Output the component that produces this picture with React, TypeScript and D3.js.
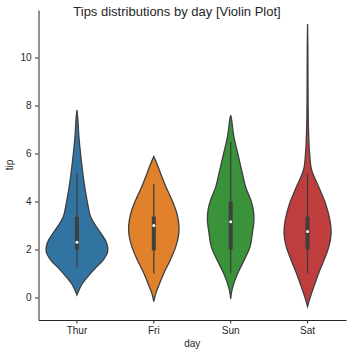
import React, { useRef, useEffect } from 'react';
import * as d3 from 'd3';

// categories and tick labels
const days = ['Thur', 'Fri', 'Sun', 'Sat'];
const yTicks = [0, 2, 4, 6, 8, 10];

// kde outline: [tip, density]
const thurDensity: [number, number][] = [
    [0.1, 0], [0.17, 0.01], [0.52, 0.067], [0.87, 0.161], [1.22, 0.271], [1.56, 0.386],
    [1.91, 0.453], [2.26, 0.439], [2.6, 0.371], [2.95, 0.286], [3.37, 0.2], [3.92, 0.157],
    [4.62, 0.114], [5.31, 0.081], [6.0, 0.053], [6.7, 0.029], [7.4, 0.014], [7.81, 0],
];
const friDensity: [number, number][] = [
    [-0.17, 0], [0.17, 0.029], [0.45, 0.067], [1.01, 0.147], [1.56, 0.243], [2.12, 0.324],
    [2.53, 0.361], [2.95, 0.371], [3.51, 0.339], [4.06, 0.267], [4.62, 0.176], [5.17, 0.1],
    [5.59, 0.043], [5.87, 0],
];
const sunDensity: [number, number][] = [
    [-0.06, 0], [0.24, 0.014], [0.59, 0.047], [1.01, 0.104], [1.56, 0.2], [2.12, 0.286],
    [2.67, 0.319], [3.23, 0.343], [3.65, 0.333], [4.06, 0.296], [4.62, 0.219], [5.31, 0.161],
    [6.0, 0.104], [6.7, 0.047], [7.4, 0.014], [7.6, 0],
];
const satDensity: [number, number][] = [
    [-0.38, 0], [-0.03, 0.036], [0.45, 0.093], [1.01, 0.164], [1.56, 0.243], [2.12, 0.314],
    [2.67, 0.347], [3.23, 0.329], [3.92, 0.264], [4.62, 0.162], [5.31, 0.06], [6.0, 0.03],
    [6.5, 0.02], [7.0, 0.014], [7.5, 0.01], [8.5, 0.007], [9.5, 0.006], [10.5, 0.004], [11.4, 0],
];
const densities = [thurDensity, friDensity, sunDensity, satDensity];

// inner box
const q1 = [2.0, 1.96, 2.0, 2.0];
const medians = [2.3, 3.0, 3.15, 2.75];
const q3 = [3.36, 3.37, 4.0, 3.37];
const whiskerLow = [1.25, 1.0, 1.01, 1.0];
const whiskerHigh = [5.2, 4.73, 6.5, 5.17];

const palette = ['#3274a1', '#e1812c', '#3a923a', '#c03d3e'];

const App: React.FC = () => {
    const svgRef = useRef<SVGSVGElement | null>(null);
    const width = 352;
    const height = 356;
    const margin = { top: 10, right: 6, bottom: 36, left: 38.5 };

    useEffect(() => {
        if (!svgRef.current) return;
        const svg = d3.select(svgRef.current);
        svg.selectAll('*').remove();

        const ink = '#262626';
        const gray = '#3f3f3f';
        const font = '"Liberation Sans", Arial, sans-serif';

        const x = d3.scaleBand<string>()
            .domain(days)
            .range([margin.left, width - margin.right])
            .padding(0);

        const y = d3.scaleLinear()
            .domain([-0.94, 11.98])
            .range([height - margin.bottom, margin.top]);

        const maxDensity = d3.max(densities, d => d3.max(d, p => p[1])) || 1;
        const w = d3.scaleLinear()
            .domain([0, maxDensity])
            .range([0, x.bandwidth() * 0.4]);

        days.forEach((day, i) => {
            const cx = (x(day) || 0) + x.bandwidth() / 2;
            const area = d3.area<[number, number]>()
                .y(d => y(d[0]))
                .x0(d => cx - w(d[1]))
                .x1(d => cx + w(d[1]))
                .curve(d3.curveCatmullRom);

            svg.append('path')
                .datum(densities[i])
                .attr('d', area)
                .attr('fill', palette[i])
                .attr('stroke', gray)
                .attr('stroke-width', 1.3);

            svg.append('line')
                .attr('x1', cx).attr('x2', cx)
                .attr('y1', y(whiskerLow[i])).attr('y2', y(whiskerHigh[i]))
                .attr('stroke', gray)
                .attr('stroke-width', 1.3);

            svg.append('line')
                .attr('x1', cx).attr('x2', cx)
                .attr('y1', y(q1[i])).attr('y2', y(q3[i]))
                .attr('stroke', gray)
                .attr('stroke-width', 4);

            svg.append('circle')
                .attr('cx', cx)
                .attr('cy', y(medians[i]))
                .attr('r', 1.5)
                .attr('fill', 'white');
        });

        const yAxis = svg.append('g')
            .attr('transform', `translate(${margin.left},0)`)
            .call(d3.axisLeft(y).tickValues(yTicks).tickSize(3.5).tickSizeOuter(0).tickPadding(3.5));

        const xAxis = svg.append('g')
            .attr('transform', `translate(0,${height - margin.bottom})`)
            .call(d3.axisBottom(x).tickSize(3.5).tickSizeOuter(0).tickPadding(3.5));

        [yAxis, xAxis].forEach(g => {
            g.selectAll('path, line').attr('stroke', ink).attr('stroke-width', 1);
            g.selectAll('text').attr('fill', ink).attr('font-size', 10).attr('font-family', font);
        });

        svg.append('text')
            .attr('x', (margin.left + width - margin.right) / 2)
            .attr('y', 347)
            .attr('text-anchor', 'middle')
            .attr('font-size', 10)
            .attr('font-family', font)
            .attr('fill', ink)
            .text('day');

        svg.append('text')
            .attr('transform', `translate(13,${(margin.top + height - margin.bottom) / 2}) rotate(-90)`)
            .attr('text-anchor', 'middle')
            .attr('font-size', 10)
            .attr('font-family', font)
            .attr('fill', ink)
            .text('tip');

        svg.append('text')
            .attr('x', 177)
            .attr('y', 15.5)
            .attr('text-anchor', 'middle')
            .attr('font-size', 13)
            .attr('font-family', font)
            .attr('fill', ink)
            .text('Tips distributions by day [Violin Plot]');
    }, []);

    return (
        <svg
            ref={svgRef}
            width={width}
            height={height}
            style={{ position: 'absolute', left: 0, top: 0, background: 'white' }}
        ></svg>
    );
};

export default App;
